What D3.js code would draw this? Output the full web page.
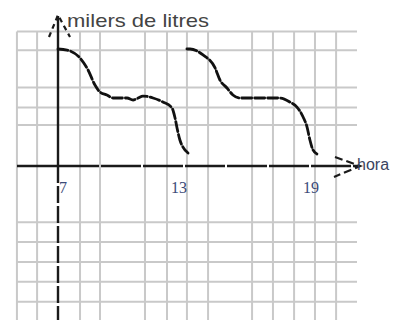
<!DOCTYPE html>
<html><head><meta charset="utf-8">
<script src="https://cdn.jsdelivr.net/npm/d3@7"></script>
<style>html,body{margin:0;padding:0;background:#fff;}svg{display:block;}</style>
</head><body>
<svg id="c" width="395" height="320"></svg>
<script>
// Hours on x, thousands of litres on y (arbitrary units)
const xTickHours = [7, 13, 19];
const xTickLabels = ["7", "13", "19"];
const gridHours = [4.8, 5.88, 7, 8.18, 9.25, 11.66, 12.84, 13.77, 14.73, 16.73, 17.68, 18.64, 19.59, 20.55];
const gridLevels = [11.5, 9.9, 6.7, 5.0, 3.5, 0, -4.8, -6.5, -8.2, -9.9, -11.6];
const morningHours = [7.00, 7.48, 8.18, 8.61, 8.98, 9.25, 9.62, 9.95, 10.70, 11.02, 11.29, 11.55, 12.09, 12.62, 13.09, 13.23, 13.32, 13.45, 13.59, 13.82];
const morningLitres = [10.0, 9.91, 9.23, 8.21, 6.92, 6.32, 6.07, 5.81, 5.81, 5.64, 5.81, 5.98, 5.81, 5.47, 4.96, 4.10, 3.25, 2.22, 1.62, 1.11];
const afternoonHours = [13.77, 13.91, 14.50, 15.05, 15.27, 15.59, 15.86, 16.18, 18.00, 18.45, 18.77, 19.05, 19.23, 19.36, 19.50, 19.68];
const afternoonLitres = [10.0, 10.0, 9.49, 8.38, 7.35, 6.67, 6.07, 5.81, 5.81, 5.47, 5.04, 4.19, 3.33, 2.22, 1.37, 1.03];
const yTitle = "milers de litres";
const xTitle = "hora";

const svg = d3.select("#c");
const x = d3.scaleLinear().domain([7, 13, 19]).range([58, 170, 302]);
const y = d3.scaleLinear().domain([0, 10]).range([166, 49]);
const gridLeft = 17, gridRight = 357, gridTop = y(11.5), bottom = 320;

// grid
const g = svg.append("g").attr("stroke", "#c9c9c9").attr("stroke-width", 2);
g.selectAll("line.v").data(gridHours.filter(h => h !== 7)).join("line")
  .attr("x1", d => x(d)).attr("x2", d => x(d)).attr("y1", gridTop).attr("y2", bottom);
g.selectAll("line.h").data(gridLevels.filter(v => v !== 0)).join("line")
  .attr("x1", gridLeft).attr("x2", gridRight).attr("y1", d => y(d)).attr("y2", d => y(d));

// axes
const ax = svg.append("g").attr("stroke", "#1a1a1a").attr("fill", "none");
ax.append("line").attr("x1", gridLeft).attr("x2", 359).attr("y1", y(0)).attr("y2", y(0))
  .attr("stroke-width", 2.6).attr("stroke-dasharray", "40,2");
ax.append("line").attr("x1", x(7)).attr("x2", x(7)).attr("y1", y(0)).attr("y2", 16)
  .attr("stroke-width", 2.4);
ax.append("line").attr("x1", x(7)).attr("x2", x(7)).attr("y1", y(0)).attr("y2", bottom)
  .attr("stroke-width", 2.4).attr("stroke-dasharray", "17,3");
// arrows
ax.append("path").attr("d", `M${x(7)-9},37 L${x(7)},15 L${x(7)+12},37`)
  .attr("stroke-width", 2.2).attr("stroke-dasharray", "5,4");
ax.append("path").attr("d", `M335,157 L360,166 L334,177`)
  .attr("stroke-width", 2.2).attr("stroke-dasharray", "8,4");

// curves
const line = d3.line().x(d => x(d[0])).y(d => y(d[1])).curve(d3.curveMonotoneX);
[[morningHours, morningLitres], [afternoonHours, afternoonLitres]].forEach(([hs, ls]) => {
  svg.append("path").datum(hs.map((h, i) => [h, ls[i]])).attr("d", line)
    .attr("fill", "none").attr("stroke", "#111").attr("stroke-width", 2.8)
    .attr("stroke-dasharray", "10,3").attr("stroke-linecap", "round");
});

// labels
svg.selectAll("text.tick").data(xTickHours).join("text").attr("class", "tick")
  .attr("x", d => x(d) + 1).attr("y", 193)
  .attr("font-family", "Liberation Serif, serif").attr("font-size", 16)
  .attr("fill", "#3b4a78").text((d, i) => xTickLabels[i]);
svg.append("text").attr("x", 67).attr("y", 27).attr("font-family", "Liberation Sans, Arial, sans-serif")
  .attr("font-size", 19).attr("fill", "#444").attr("textLength", 142).attr("lengthAdjust", "spacingAndGlyphs")
  .text(yTitle);
svg.append("text").attr("x", 357).attr("y", 170).attr("font-family", "Liberation Sans, Arial, sans-serif")
  .attr("font-size", 16).attr("fill", "#3a4460").text(xTitle);
</script>
</body></html>
